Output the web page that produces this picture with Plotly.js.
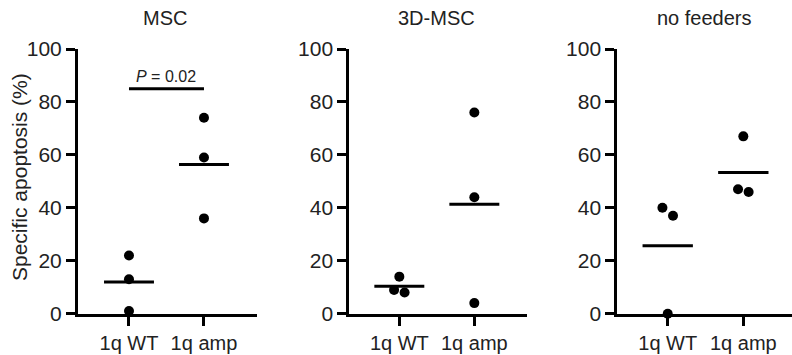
<!DOCTYPE html>
<html>
<head>
<meta charset="utf-8">
<script src="https://cdn.plot.ly/plotly-3.0.1.min.js"></script>
<style>html,body{margin:0;padding:0;background:#fff;}#chart{width:792px;height:355px;}</style>
</head>
<body>
<div id="chart"></div>
<script>
const categories = ["1q WT", "1q amp"];
const panelTitles = ["MSC", "3D-MSC", "no feeders"];
const yTickVals = [0, 20, 40, 60, 80, 100];
const yAxisTitle = "Specific apoptosis (%)";

// values per panel: [1q WT, 1q amp]
const mscWT = [22, 13, 1];
const mscAmp = [74, 59, 36];
const msc3dWT = [14, 9, 8];
const msc3dAmp = [76, 44, 4];
const noFeedWT = [40, 37, 0];
const noFeedAmp = [67, 47, 46];

// horizontal jitter offsets (category units) for overlapping dots
const mscWTJit = [0, 0, 0];
const mscAmpJit = [0, 0, 0];
const msc3dWTJit = [0, -0.07, 0.07];
const msc3dAmpJit = [0, 0, 0];
const noFeedWTJit = [-0.07, 0.07, 0];
const noFeedAmpJit = [0, -0.07, 0.07];

const pValueText = "<i>P</i> = 0.02";
const pBarY = 85;

const panels = [
  {wt: mscWT, amp: mscAmp, wj: mscWTJit, aj: mscAmpJit},
  {wt: msc3dWT, amp: msc3dAmp, wj: msc3dWTJit, aj: msc3dAmpJit},
  {wt: noFeedWT, amp: noFeedAmp, wj: noFeedWTJit, aj: noFeedAmpJit}
];

const W = 792, H = 355;
const domainsPx = [[78, 257], [349.3, 526.7], [617.3, 792]];
const ranges = [[-0.68, 1.707], [-0.667, 1.698], [-0.667, 1.644]];
const titleCenters = [165, 436, 704];
const yDom = [(H - 313.7) / H, (H - 49) / H];
const font = "Liberation Sans, Arial, sans-serif";
const txtColor = "#222";
const halfW = 0.333;

const mean = a => a.reduce((s, v) => s + v, 0) / a.length;

const traces = [];
const layout = {
  width: W, height: H,
  margin: {l: 0, r: 0, t: 0, b: 0},
  paper_bgcolor: "#fff", plot_bgcolor: "rgba(0,0,0,0)",
  showlegend: false,
  font: {family: font, color: txtColor, size: 20},
  annotations: [], shapes: []
};

panels.forEach((p, i) => {
  const xa = i === 0 ? "x" : "x" + (i + 1);
  const ya = i === 0 ? "y" : "y" + (i + 1);
  const groups = [[p.wt, p.wj], [p.amp, p.aj]];
  groups.forEach((g, ci) => {
    const vals = g[0], jit = g[1];
    traces.push({
      type: "scatter", mode: "markers", xaxis: xa, yaxis: ya,
      x: vals.map((v, k) => ci + jit[k]), y: vals,
      marker: {color: "#000", size: 10}, cliponaxis: false, hoverinfo: "skip"
    });
    const m = mean(vals);
    traces.push({
      type: "scatter", mode: "lines", xaxis: xa, yaxis: ya,
      x: [ci - halfW, ci + halfW], y: [m, m],
      line: {color: "#000", width: 3}, cliponaxis: false, hoverinfo: "skip"
    });
  });
  const d = domainsPx[i];
  layout["xaxis" + (i === 0 ? "" : i + 1)] = {
    domain: [d[0] / W, d[1] / W], range: ranges[i], anchor: ya,
    tickvals: [0, 1], ticktext: categories, showgrid: false, zeroline: false,
    showline: true, linecolor: "#000", linewidth: 3,
    ticks: "outside", ticklen: 9, tickwidth: 3, tickcolor: "#000",
    tickfont: {family: font, size: 20, color: txtColor}, fixedrange: true
  };
  layout["yaxis" + (i === 0 ? "" : i + 1)] = {
    domain: yDom, range: [0, 100], anchor: xa,
    tickvals: yTickVals, showgrid: false, zeroline: false,
    showline: true, linecolor: "#000", linewidth: 3,
    ticks: "outside", ticklen: 9, tickwidth: 3, tickcolor: "#000",
    tickfont: {family: font, size: 21, color: txtColor}, fixedrange: true
  };
  layout.annotations.push({
    xref: "paper", yref: "paper", x: titleCenters[i] / W, y: (H - 18) / H,
    text: panelTitles[i], showarrow: false, xanchor: "center", yanchor: "middle",
    font: {family: font, size: 20, color: txtColor}
  });
});

// significance bar on MSC panel
traces.push({
  type: "scatter", mode: "lines", xaxis: "x", yaxis: "y",
  x: [0, 1], y: [pBarY, pBarY], line: {color: "#000", width: 3},
  cliponaxis: false, hoverinfo: "skip"
});
layout.annotations.push({
  xref: "x", yref: "y", x: 0.5, y: pBarY + 4.8, text: pValueText,
  showarrow: false, xanchor: "center", yanchor: "middle",
  font: {family: font, size: 16, color: txtColor}
});

layout.annotations.push({
  xref: "paper", yref: "paper", x: 19 / W, y: (H - 177) / H,
  text: yAxisTitle, textangle: -90, showarrow: false,
  xanchor: "center", yanchor: "middle",
  font: {family: font, size: 21, color: txtColor}
});

Plotly.newPlot("chart", traces, layout, {displayModeBar: false, staticPlot: true});
</script>
</body>
</html>
